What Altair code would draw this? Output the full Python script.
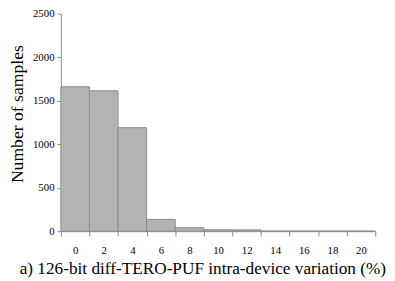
import altair as alt
import pandas as pd

bins = ["0", "2", "4", "6", "8", "10", "12", "14", "16", "18", "20"]
counts = [1660, 1615, 1190, 135, 40, 16, 15, 0, 0, 0, 0]

df = pd.DataFrame({"bin": bins, "count": counts})

chart = alt.Chart(df).mark_bar(
    color="#b3b3b3", stroke="#8a8a8a", strokeWidth=1
).encode(
    x=alt.X("bin:N", sort=bins,
            scale=alt.Scale(paddingInner=0, paddingOuter=0),
            axis=alt.Axis(title="a) 126-bit diff-TERO-PUF intra-device variation (%)",
                          labelAngle=0, tickBand="extent", tickSize=5,
                          labelPadding=9, titlePadding=4, titleX=144.5,
                          titleFontSize=17.6, titleFontWeight="normal")),
    y=alt.Y("count:Q", scale=alt.Scale(domain=[0, 2500]),
            axis=alt.Axis(title="Number of samples", values=[0, 500, 1000, 1500, 2000, 2500],
                          format="d", tickSize=4, labelPadding=3, grid=False,
                          titleFontSize=18, titleFontWeight="normal", titlePadding=6,
                          titleY=102))
).properties(
    width=321, height=222,
    autosize=alt.AutoSizeParams(type="none"),
    padding={"left": 54, "top": 3, "right": 12, "bottom": 48}
).configure(
    font="Liberation Serif"
).configure_axis(
    domainColor="#8c8c8c", tickColor="#8c8c8c",
    labelFont="Liberation Serif", titleFont="Liberation Serif",
    labelFontSize=11, labelColor="#000000", titleColor="#000000"
).configure_view(stroke=None)

chart.save("out.html", embed_options={"renderer": "svg", "actions": False})
